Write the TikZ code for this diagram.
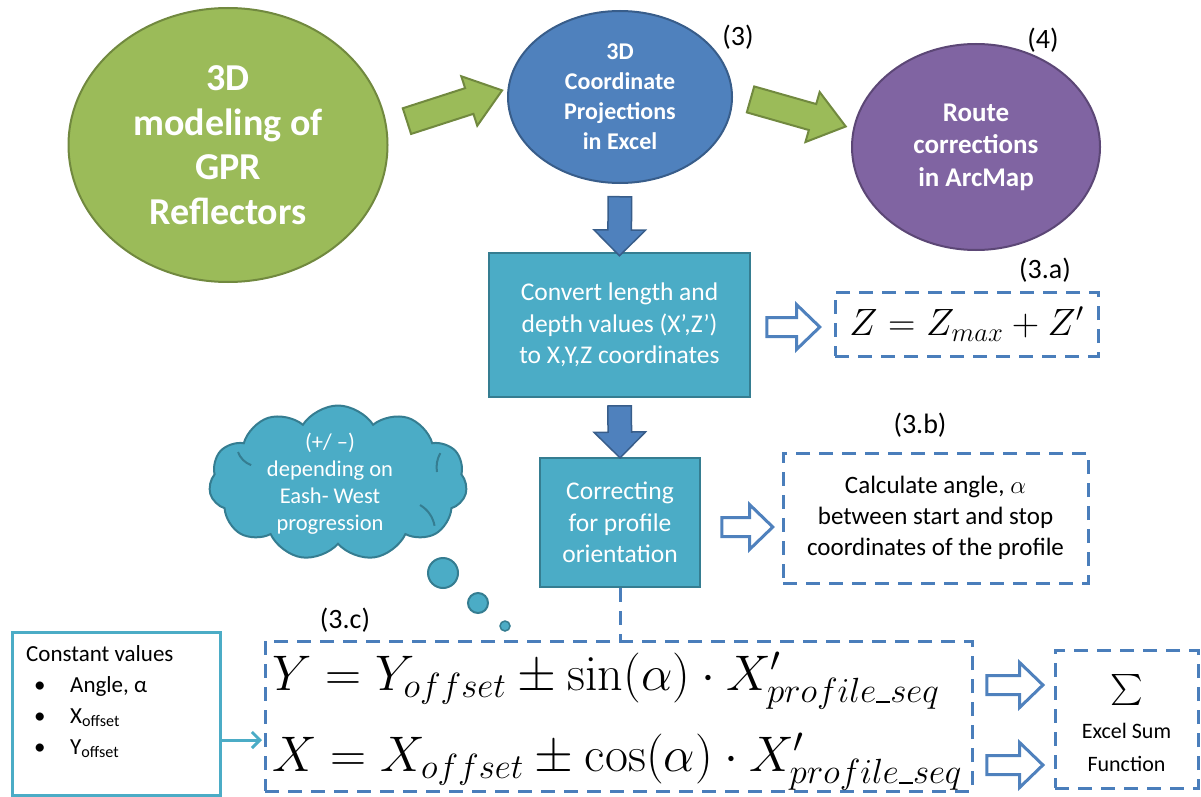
\RequirePackage{fix-cm}
\documentclass[tikz,border=0pt]{standalone}
\usepackage[no-math]{fontspec}
\setmainfont{Carlito}
\usetikzlibrary{shapes.geometric,shapes.arrows,shapes.symbols,arrows.meta,calc}

\definecolor{olive}{HTML}{9BBB59}
\definecolor{oliveD}{HTML}{71893F}
\definecolor{steel}{HTML}{4F81BD}
\definecolor{steelD}{HTML}{385D8A}
\definecolor{plum}{HTML}{8064A2}
\definecolor{plumD}{HTML}{5C4776}
\definecolor{aqua}{HTML}{4BACC6}
\definecolor{aquaD}{HTML}{357D91}
\definecolor{dashblue}{HTML}{4A7EBB}

\newcommand{\fs}[2]{\fontsize{#1}{#2}\selectfont}
\newcommand{\usc}{\rule[-1pt]{14pt}{2pt}}

\begin{document}
\begin{tikzpicture}[x=1pt,y=-1pt,
  bubble/.style={ellipse, text=white, align=center, line width=2pt},
  tealbox/.style={rectangle, fill=aqua, draw=aquaD, line width=2.5pt, text=white, align=center, inner sep=0pt, font=\fs{25.5}{31.5}},
  dashbox/.style={rectangle, draw=dashblue, line width=3pt, dash pattern=on 14pt off 9pt, inner sep=0pt},
  tag/.style={font=\fs{28}{32}, text=black},
  greenarrow/.style={single arrow, fill=olive, draw=oliveD, line width=2pt, minimum width=0pt,
     inner xsep=0pt, inner ysep=12.5pt, single arrow head extend=12.5pt, single arrow tip angle=74,
     sloped, allow upside down},
  downarrow/.style={single arrow, fill=steel, draw=steelD, line width=1.5pt, minimum width=0pt,
     inner xsep=0pt, inner ysep=11pt, single arrow head extend=14pt, single arrow tip angle=90,
     sloped, allow upside down},
  hollowarrow/.style={single arrow, fill=white, draw=steel, line width=3pt, minimum width=0pt,
     inner xsep=0pt, inner ysep=8pt, single arrow head extend=13pt, single arrow tip angle=88,
     sloped, allow upside down},
  eq/.style={font=\fs{50}{56}, anchor=base west, inner sep=0pt}
]
\useasboundingbox (0,0) rectangle (1201,797);

% ---- top row: three process ellipses ----
\node[bubble, fill=olive, draw=oliveD, minimum width=319pt, minimum height=274pt,
      font=\bfseries\fs{38}{44.5}] (gpr) at (228,145) {3D\\modeling of\\GPR\\Reflectors};
\node[bubble, fill=steel, draw=steelD, minimum width=224pt, minimum height=172pt,
      font=\bfseries\fs{24}{30}] (proj) at (620,97) {3D\\Coordinate\\Projections\\in Excel};
\node[bubble, fill=plum, draw=plumD, minimum width=248pt, minimum height=206pt,
      font=\bfseries\fs{27}{32.5}] (arc) at (976,147) {Route\\corrections\\in ArcMap};

\node[tag] (t3) at (738,37) {(3)};
\node[tag] (t4) at (1043,40) {(4)};

% block arrows between the ellipses
\coordinate (g1s) at (398,124);
\coordinate (g1e) at (494,93);
\coordinate (g2s) at (742,97);
\coordinate (g2e) at (837,124);
\path (g1s) -- (g1e) node[midway, greenarrow, minimum height=100pt] (ga1) {};
\path (g2s) -- (g2e) node[midway, greenarrow, minimum height=99pt] (ga2) {};

% ---- conversion step ----
\node[tealbox, minimum width=261pt, minimum height=144pt] (conv) at (619.5,325)
  {Convert length and\\depth values (X’,Z’)\\to X,Y,Z coordinates};
\path ($(proj.south)+(0,8)$) -- ($(conv.north)+(0,-3)$) node[midway, downarrow, minimum height=59pt] (da1) {};

\node[dashbox, minimum width=263pt, minimum height=64pt] (za) at (966.5,324)
  {\fs{38}{42}$Z = Z_{max} + Z'$};
\node[tag] (t3a) at (1045,270) {(3.a)};
\path ($(conv.east)+(12,2)$) -- ($(za.west)+(-20,3)$) node[midway, hollowarrow, minimum height=53pt] (ha1) {};

% ---- orientation step ----
\node[tealbox, minimum width=160pt, minimum height=129pt] (corr) at (620,522.5)
  {Correcting\\for profile\\orientation};
\path ($(conv.south)+(0,3)$) -- ($(corr.north)+(0,-6)$) node[midway, downarrow, minimum height=52pt] (da2) {};

\node[dashbox, minimum width=305pt, minimum height=130pt, align=center, font=\fs{25}{31}] (ang) at (935.5,518)
  {Calculate angle, $\alpha$\\between start and stop\\coordinates of the profile};
\node[tag] (t3b) at (920,425) {(3.b)};
\path ($(corr.east)+(17,4.5)$) -- ($(ang.west)+(-15,9)$) node[midway, hollowarrow, minimum height=51pt] (ha2) {};

% ---- thought cloud with its trailing bubbles ----
\node[cloud, cloud puffs=11, cloud puff arc=115, aspect=1.65, fill=aqua, draw=aquaD, line width=2pt,
      minimum width=258pt, minimum height=155pt, inner sep=0pt] (cloud) at (338,483) {};
\draw[aquaD, line width=2pt] (238,452) arc[start angle=200, end angle=250, radius=22pt];
\draw[aquaD, line width=2pt] (420,505) arc[start angle=60, end angle=10, radius=30pt];
\draw[aquaD, line width=2pt] (437,472) arc[start angle=190, end angle=150, radius=28pt];
\node[text=white, align=center, font=\fs{22.5}{27}] (cloudtxt) at (330,484)
  {(+/ –)\\depending on\\Eash- West\\progression};
\node[circle, fill=aqua, draw=aquaD, line width=2pt, minimum size=30pt, inner sep=0pt] (b1) at (443,573) {};
\node[circle, fill=aqua, draw=aquaD, line width=2pt, minimum size=20pt, inner sep=0pt] (b2) at (478,603) {};
\node[circle, fill=aqua, draw=aquaD, line width=1.5pt, minimum size=10pt, inner sep=0pt] (b3) at (505,626) {};

% ---- coordinate equations ----
\node[dashbox, minimum width=707pt, minimum height=150pt] (eqs) at (618.5,716) {};
\node[tag] (t3c) at (345,620) {(3.c)};
\draw[draw=dashblue, line width=3pt, dash pattern=on 14pt off 9pt] (corr.south) -- (corr.south |- eqs.north);
\node[eq] (eqy) at (272,690) {$Y = Y_{offset} \pm \sin(\alpha)\cdot X'_{profile\usc seq}$};
\node[eq] (eqx) at (272,771) {$X = X_{offset} \pm \cos(\alpha)\cdot X'_{profile\usc seq}$};

% constants feeding the equations
\node[rectangle, draw=aqua, fill=white, line width=3pt, minimum width=208pt, minimum height=163pt] (const) at (116,713.5) {};
\node[anchor=north west, align=left, inner sep=0pt, font=\fs{23}{31}] (consttxt) at (26,645)
  {Constant values\\
   \hspace*{8pt}\makebox[36pt][l]{\textbullet}Angle, α\\
   \hspace*{8pt}\makebox[36pt][l]{\textbullet}X\textsubscript{offset}\\
   \hspace*{8pt}\makebox[36pt][l]{\textbullet}Y\textsubscript{offset}};
\draw[draw=aqua, line width=3pt, -{Straight Barb[length=8pt,width=16pt]}] (const.east |- 0,740) -- (262,740);

% ---- summation ----
\node[dashbox, minimum width=143pt, minimum height=138pt] (sum) at (1126.5,719) {};
\node[inner sep=0pt] (sig) at (1126.5,690) {\scalebox{3.1}{$\sum$}};
\node[align=center, font=\fs{22}{33}, inner sep=0pt] (sumtxt) at (1126.5,747) {Excel Sum\\Function};
\path (980,685) -- (1040,685) node[midway, hollowarrow, minimum height=56pt] (ha3) {};
\path (980,765) -- (1040,765) node[midway, hollowarrow, minimum height=56pt] (ha4) {};
\end{tikzpicture}
\end{document}
